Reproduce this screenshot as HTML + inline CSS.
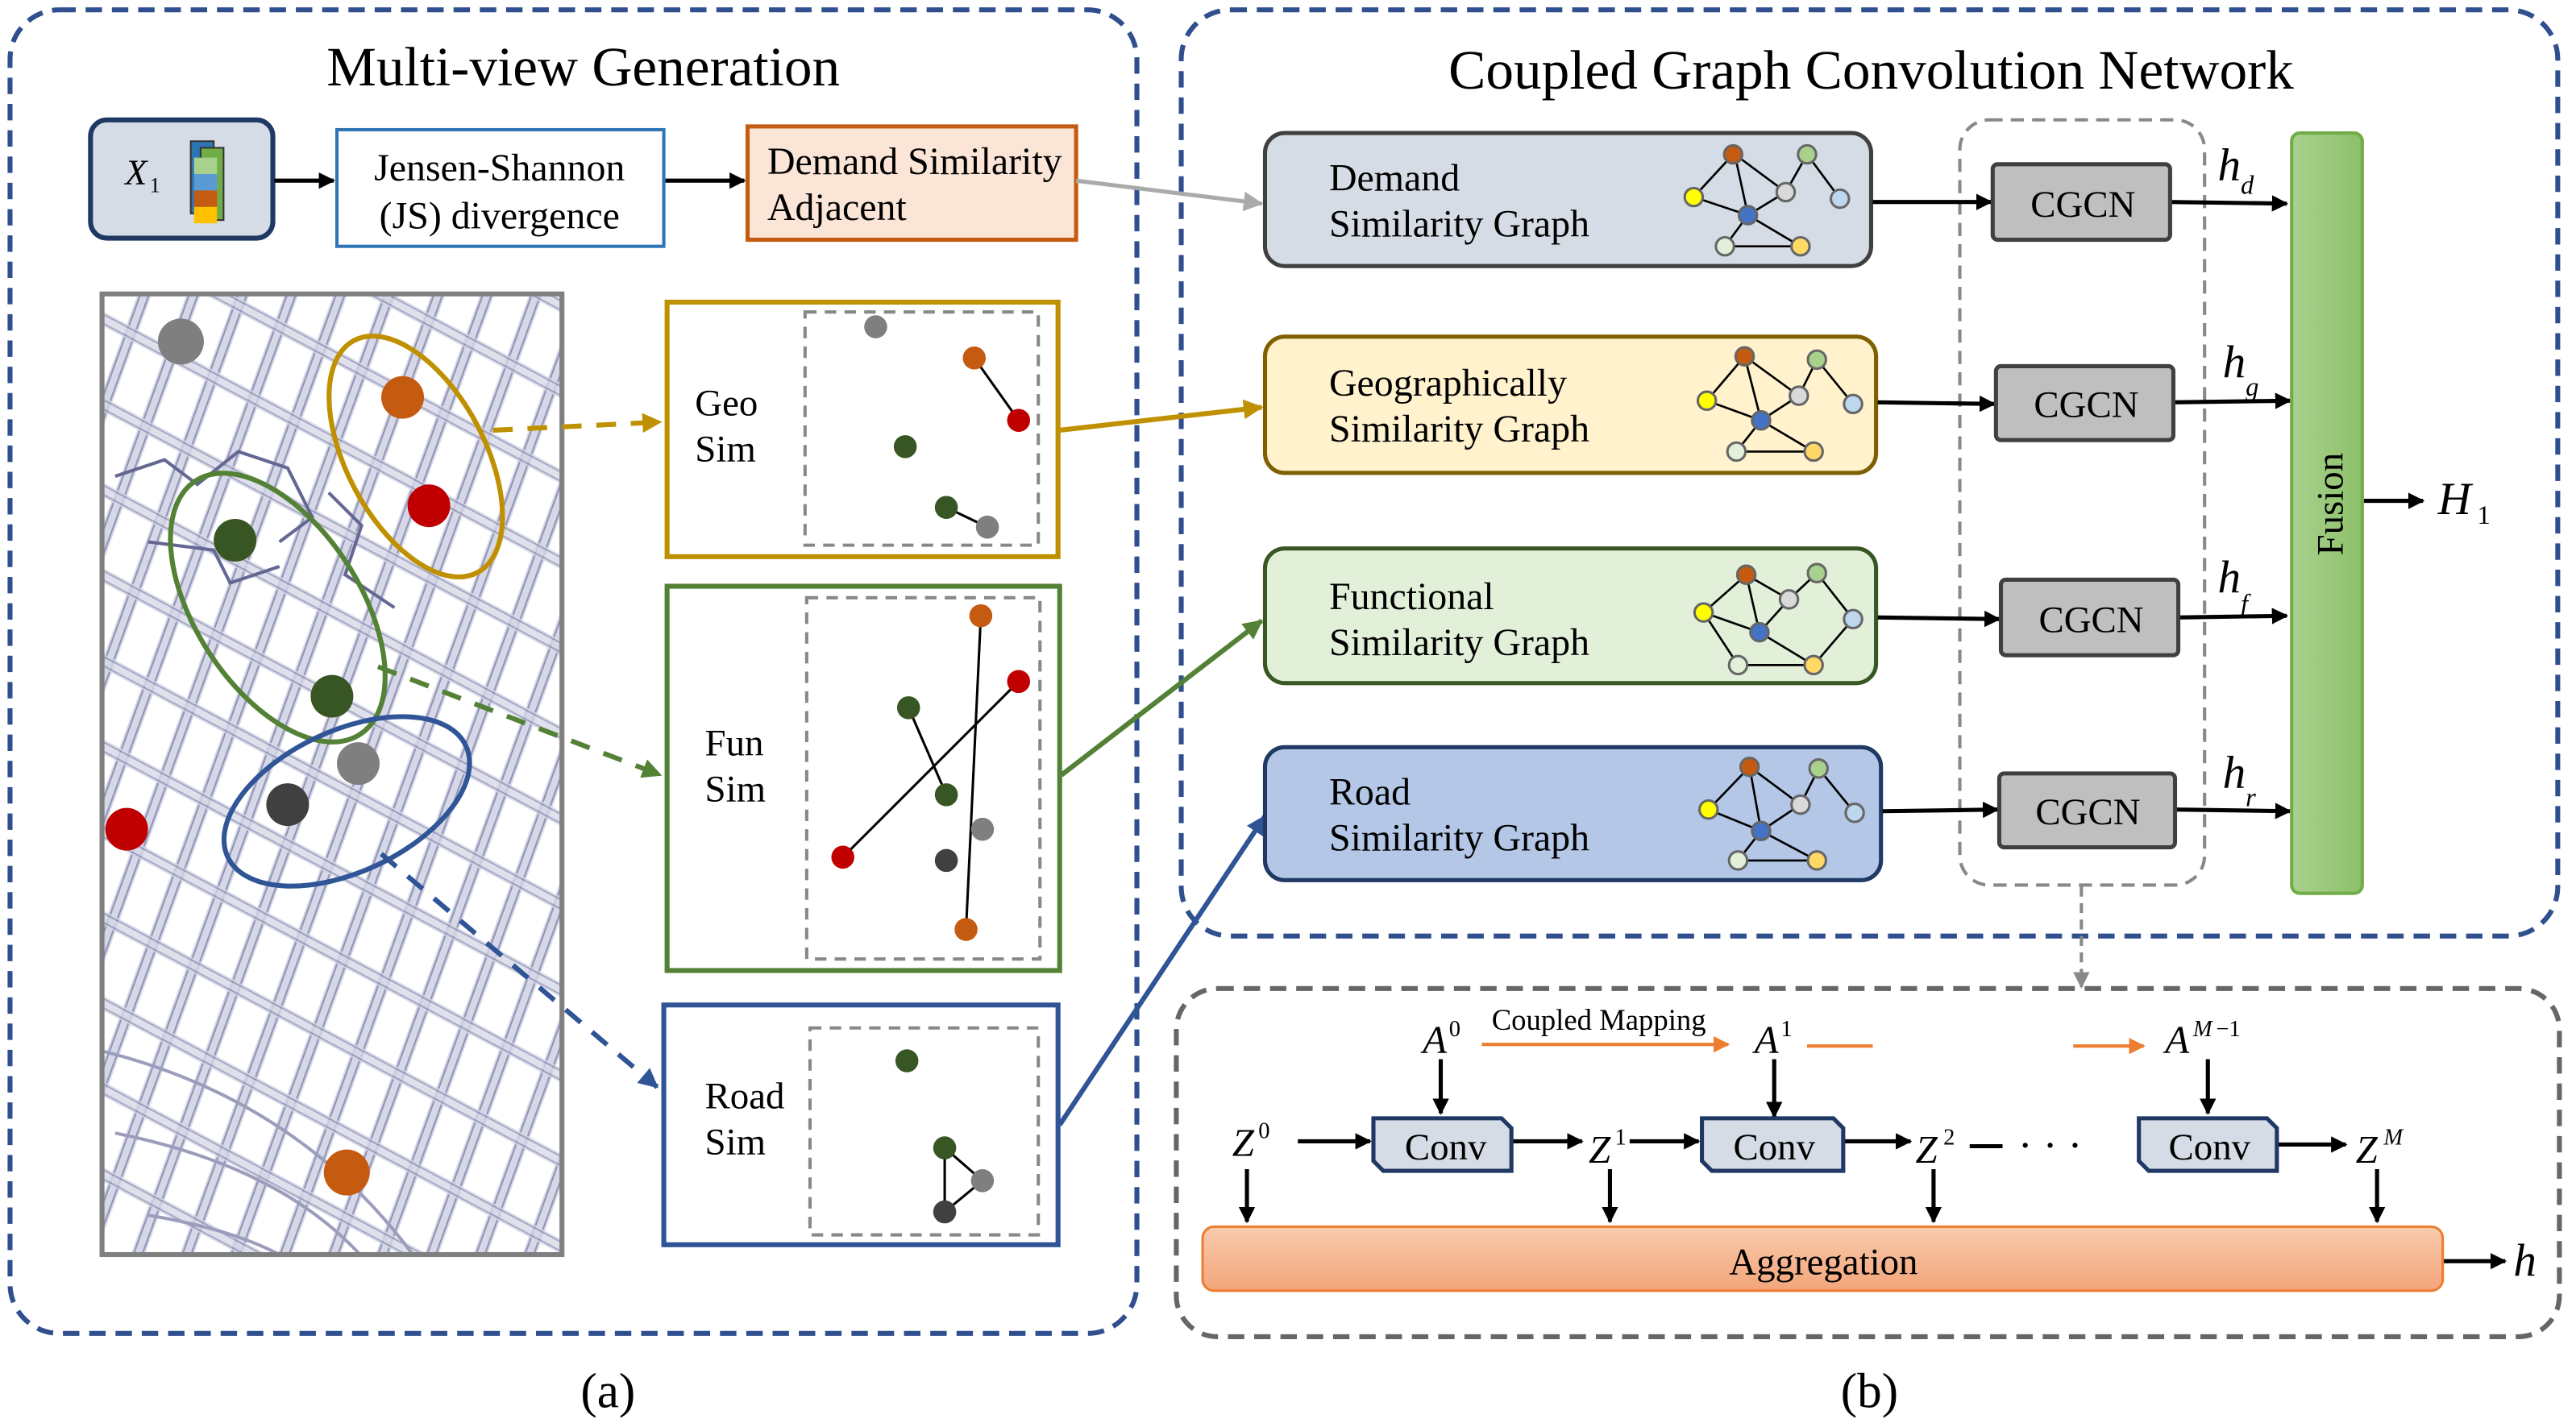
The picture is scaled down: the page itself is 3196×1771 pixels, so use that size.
<!DOCTYPE html>
<html><head><meta charset="utf-8"><style>html,body{margin:0;padding:0;background:#fff}svg{display:block}</style></head>
<body>
<svg width="3196" height="1771" viewBox="0 0 1568 869" xmlns="http://www.w3.org/2000/svg" font-family="'Liberation Serif', serif">
<defs>
<marker id="ak" markerWidth="10" markerHeight="10" refX="9" refY="5" orient="auto" markerUnits="userSpaceOnUse"><path d="M0,0 L10,5 L0,10 z" fill="#000"/></marker>
<marker id="ag" markerWidth="12" markerHeight="12" refX="11" refY="6" orient="auto" markerUnits="userSpaceOnUse"><path d="M0,0 L12,6 L0,12 z" fill="#aaa"/></marker>
<marker id="ay" markerWidth="12" markerHeight="12" refX="11" refY="6" orient="auto" markerUnits="userSpaceOnUse"><path d="M0,0 L12,6 L0,12 z" fill="#bf9000"/></marker>
<marker id="agr" markerWidth="12" markerHeight="12" refX="11" refY="6" orient="auto" markerUnits="userSpaceOnUse"><path d="M0,0 L12,6 L0,12 z" fill="#538135"/></marker>
<marker id="ab" markerWidth="12" markerHeight="12" refX="11" refY="6" orient="auto" markerUnits="userSpaceOnUse"><path d="M0,0 L12,6 L0,12 z" fill="#2f5597"/></marker>
<marker id="ao" markerWidth="10" markerHeight="10" refX="9" refY="5" orient="auto" markerUnits="userSpaceOnUse"><path d="M0,0 L10,5 L0,10 z" fill="#ed7d31"/></marker>
<marker id="agg" markerWidth="10" markerHeight="10" refX="9" refY="5" orient="auto" markerUnits="userSpaceOnUse"><path d="M0,0 L10,5 L0,10 z" fill="#888"/></marker>
<pattern id="p1" width="28" height="28" patternUnits="userSpaceOnUse" patternTransform="rotate(20)"><rect x="0" y="0" width="8" height="28" fill="#cfd2e4"/><rect x="1" y="0" width="1" height="28" fill="#7c7fa6"/><rect x="6" y="0" width="1" height="28" fill="#7c7fa6"/></pattern>
<pattern id="p2" width="46" height="46" patternUnits="userSpaceOnUse" patternTransform="rotate(28)"><rect x="0" y="0" width="46" height="8" fill="#cfd2e4"/><rect x="0" y="1" width="46" height="1" fill="#7c7fa6"/><rect x="0" y="6" width="46" height="1" fill="#7c7fa6"/></pattern>
<clipPath id="mc"><rect x="62" y="179" width="280" height="585"/></clipPath>
<linearGradient id="fg" x1="0" x2="1"><stop offset="0" stop-color="#a9d18e"/><stop offset="1" stop-color="#8cc06a"/></linearGradient>
<linearGradient id="ag2" x1="0" y1="0" x2="0" y2="1"><stop offset="0" stop-color="#f8cbad"/><stop offset="1" stop-color="#f4a57a"/></linearGradient>
</defs>

<rect x="6" y="6" width="686" height="806" rx="30" fill="none" stroke="#2f4f8f" stroke-width="3" stroke-dasharray="10,6"/>
<rect x="719" y="6" width="838" height="564" rx="30" fill="none" stroke="#2f4f8f" stroke-width="3" stroke-dasharray="10,6"/>
<rect x="716" y="602" width="842" height="212" rx="25" fill="none" stroke="#666" stroke-width="3" stroke-dasharray="10,6"/>
<rect x="1193" y="73" width="149" height="466" rx="18" fill="none" stroke="#888" stroke-width="2" stroke-dasharray="8,5"/>

<text x="355" y="52" font-size="34" text-anchor="middle">Multi-view Generation</text>
<text x="1139" y="54" font-size="34" text-anchor="middle">Coupled Graph Convolution Network</text>
<text x="370" y="857" font-size="30" text-anchor="middle">(a)</text>
<text x="1138" y="857" font-size="30" text-anchor="middle">(b)</text>

<rect x="55" y="73" width="111" height="72" rx="10" fill="#d6dce5" stroke="#1f3864" stroke-width="3"/>
<text x="76" y="112" font-size="22" font-style="italic">X</text><text x="91" y="117" font-size="13">1</text>
<rect x="116" y="86" width="14" height="44" fill="#2e75b6" stroke="#333" stroke-width="1"/>
<rect x="122" y="90" width="14" height="44" fill="#70ad47" stroke="#333" stroke-width="1"/>
<rect x="118" y="96" width="14" height="10" fill="#a9d18e"/><rect x="118" y="106" width="14" height="10" fill="#5b9bd5"/><rect x="118" y="116" width="14" height="10" fill="#c55a11"/><rect x="118" y="126" width="14" height="10" fill="#ffc000"/>
<line x1="167" y1="110" x2="203" y2="110" stroke="#000" stroke-width="2.5" marker-end="url(#ak)"/>
<rect x="205" y="79" width="199" height="71" fill="#fff" stroke="#2e75b6" stroke-width="2"/>
<text x="304" y="110" font-size="23.5" text-anchor="middle">Jensen-Shannon</text>
<text x="304" y="139" font-size="23.5" text-anchor="middle">(JS) divergence</text>
<line x1="405" y1="110" x2="453" y2="110" stroke="#000" stroke-width="2.5" marker-end="url(#ak)"/>
<rect x="455" y="77" width="200" height="69" fill="#fbe5d6" stroke="#c55a11" stroke-width="2.5"/>
<text x="467" y="106" font-size="23.5">Demand Similarity</text>
<text x="467" y="134" font-size="23.5">Adjacent</text>
<line x1="655" y1="110" x2="768" y2="124" stroke="#aaa" stroke-width="2.5" marker-end="url(#ag)"/>

<rect x="62" y="179" width="280" height="585" fill="#fff"/>
<g clip-path="url(#mc)" opacity="0.85">
<rect x="0" y="150" width="400" height="650" fill="url(#p1)"/>
<rect x="0" y="150" width="400" height="650" fill="url(#p2)" opacity="0.8"/>
<path d="M70,290 l30,-10 l20,15 l25,-20 l30,10 l15,30 l-20,15 M90,330 l40,5 l10,20 l30,-10 M200,300 l20,20 l-10,30 l30,20" stroke="#4a4d80" stroke-width="2" fill="none"/>
<path d="M70,690 q100,20 150,75 M90,740 q60,10 90,30 M62,640 q120,30 190,125" stroke="#8a8db0" stroke-width="2" fill="none"/>
</g>
<rect x="62" y="179" width="280" height="585" fill="none" stroke="#7f7f7f" stroke-width="3"/>
<circle cx="110" cy="208" r="14" fill="#7f7f7f"/>
<circle cx="245" cy="242" r="13" fill="#c55a11"/>
<circle cx="261" cy="308" r="13" fill="#c00000"/>
<circle cx="143" cy="329" r="13" fill="#375623"/>
<circle cx="202" cy="424" r="13" fill="#375623"/>
<circle cx="218" cy="465" r="13" fill="#7f7f7f"/>
<circle cx="175" cy="490" r="13" fill="#404040"/>
<circle cx="77" cy="505" r="13" fill="#c00000"/>
<circle cx="211" cy="714" r="14" fill="#c55a11"/>
<ellipse cx="253" cy="278" rx="42" ry="80" transform="rotate(-28 253 278)" fill="none" stroke="#bf9000" stroke-width="3"/>
<ellipse cx="169" cy="370" rx="50" ry="92" transform="rotate(-33 169 370)" fill="none" stroke="#538135" stroke-width="3"/>
<ellipse cx="211" cy="488" rx="80" ry="43" transform="rotate(-25 211 488)" fill="none" stroke="#2f5597" stroke-width="3"/>
<line x1="300" y1="262" x2="402" y2="257" stroke="#bf9000" stroke-width="3" stroke-dasharray="12,9" marker-end="url(#ay)"/>
<line x1="230" y1="406" x2="402" y2="472" stroke="#538135" stroke-width="3" stroke-dasharray="12,9" marker-end="url(#agr)"/>
<line x1="232" y1="520" x2="400" y2="662" stroke="#2f5597" stroke-width="3" stroke-dasharray="12,9" marker-end="url(#ab)"/>

<rect x="406" y="184" width="238" height="155" fill="#fff" stroke="#bf9000" stroke-width="3"/>
<rect x="490" y="190" width="142" height="142" fill="none" stroke="#888" stroke-width="2" stroke-dasharray="7,5"/>
<text x="423" y="253" font-size="23">Geo</text><text x="423" y="281" font-size="23">Sim</text>
<line x1="593" y1="218" x2="620" y2="256" stroke="#000" stroke-width="1.5"/>
<line x1="576" y1="309" x2="601" y2="321" stroke="#000" stroke-width="1.5"/>
<circle cx="533" cy="199" r="7" fill="#7f7f7f"/><circle cx="593" cy="218" r="7" fill="#c55a11"/><circle cx="620" cy="256" r="7" fill="#c00000"/><circle cx="551" cy="272" r="7" fill="#375623"/><circle cx="576" cy="309" r="7" fill="#375623"/><circle cx="601" cy="321" r="7" fill="#7f7f7f"/>
<line x1="645" y1="262" x2="768" y2="248" stroke="#bf9000" stroke-width="3" marker-end="url(#ay)"/>

<rect x="406" y="357" width="239" height="234" fill="#fff" stroke="#538135" stroke-width="3"/>
<rect x="491" y="364" width="142" height="220" fill="none" stroke="#888" stroke-width="2" stroke-dasharray="7,5"/>
<text x="429" y="460" font-size="23">Fun</text><text x="429" y="488" font-size="23">Sim</text>
<line x1="597" y1="375" x2="588" y2="566" stroke="#000" stroke-width="1.5"/>
<line x1="620" y1="415" x2="513" y2="522" stroke="#000" stroke-width="1.5"/>
<line x1="553" y1="431" x2="576" y2="484" stroke="#000" stroke-width="1.5"/>
<circle cx="597" cy="375" r="7" fill="#c55a11"/><circle cx="620" cy="415" r="7" fill="#c00000"/><circle cx="553" cy="431" r="7" fill="#375623"/><circle cx="576" cy="484" r="7" fill="#375623"/><circle cx="598" cy="505" r="7" fill="#7f7f7f"/><circle cx="576" cy="524" r="7" fill="#404040"/><circle cx="513" cy="522" r="7" fill="#c00000"/><circle cx="588" cy="566" r="7" fill="#c55a11"/>
<line x1="646" y1="472" x2="768" y2="378" stroke="#538135" stroke-width="3" marker-end="url(#agr)"/>

<rect x="404" y="612" width="240" height="146" fill="#fff" stroke="#2f5597" stroke-width="3"/>
<rect x="493" y="626" width="139" height="126" fill="none" stroke="#888" stroke-width="2" stroke-dasharray="7,5"/>
<text x="429" y="675" font-size="23">Road</text><text x="429" y="703" font-size="23">Sim</text>
<path d="M575,699 L598,719 L575,738 Z" fill="none" stroke="#000" stroke-width="1.5"/>
<circle cx="552" cy="646" r="7" fill="#375623"/><circle cx="575" cy="699" r="7" fill="#375623"/><circle cx="598" cy="719" r="7" fill="#7f7f7f"/><circle cx="575" cy="738" r="7" fill="#404040"/>
<line x1="645" y1="685" x2="770" y2="497" stroke="#2f5597" stroke-width="3" marker-end="url(#ab)"/>

<rect x="770" y="81" width="369" height="81" rx="12" fill="#d6dce5" stroke="#404040" stroke-width="2.5"/>
<text x="809" y="116" font-size="23.5">Demand</text><text x="809" y="144" font-size="23.5">Similarity Graph</text>
<rect x="770" y="205" width="372" height="83" rx="12" fill="#fff2cc" stroke="#7f6000" stroke-width="2.5"/>
<text x="809" y="241" font-size="23.5">Geographically</text><text x="809" y="269" font-size="23.5">Similarity Graph</text>
<rect x="770" y="334" width="372" height="82" rx="12" fill="#e2f0d9" stroke="#385723" stroke-width="2.5"/>
<text x="809" y="371" font-size="23.5">Functional</text><text x="809" y="399" font-size="23.5">Similarity Graph</text>
<rect x="770" y="455" width="375" height="81" rx="12" fill="#b4c7e7" stroke="#1f3864" stroke-width="2.5"/>
<text x="809" y="490" font-size="23.5">Road</text><text x="809" y="518" font-size="23.5">Similarity Graph</text>

<g stroke="#000" stroke-width="1.3" fill="none">
<path d="M1055,94 L1031,120 L1064,131 L1056,94 L1087,117 L1064,131 L1050,150 L1096,150 M1100,94 L1087,117 M1100,94 L1120,121 M1064,131 L1096,150"/>
<path d="M1062,217 L1039,244 L1072,256 L1062,217 L1095,241 L1072,256 L1057,275 L1104,275 M1106,219 L1095,241 M1106,219 L1128,246 M1072,256 L1104,275"/>
<path d="M1063,350 L1037,373 L1071,385 L1063,350 L1089,365 L1106,349 L1128,377 L1104,405 L1058,405 L1037,373 M1071,385 L1104,405 M1089,365 L1071,385"/>
<path d="M1065,467 L1040,493 L1072,506 L1065,467 L1096,490 L1072,506 L1058,524 L1106,524 M1107,468 L1096,490 M1107,468 L1129,495 M1072,506 L1106,524"/>
</g>
<g stroke="#666" stroke-width="1.5">
<circle cx="1055" cy="94" r="5.5" fill="#c55a11"/><circle cx="1100" cy="94" r="5.5" fill="#a9d18e"/><circle cx="1031" cy="120" r="5.5" fill="#ffff00"/><circle cx="1087" cy="117" r="5.5" fill="#d9d9d9"/><circle cx="1120" cy="121" r="5.5" fill="#bdd7ee"/><circle cx="1064" cy="131" r="5.5" fill="#4472c4"/><circle cx="1050" cy="150" r="5.5" fill="#e2f0d9"/><circle cx="1096" cy="150" r="5.5" fill="#ffd966"/>
<circle cx="1062" cy="217" r="5.5" fill="#c55a11"/><circle cx="1106" cy="219" r="5.5" fill="#a9d18e"/><circle cx="1039" cy="244" r="5.5" fill="#ffff00"/><circle cx="1095" cy="241" r="5.5" fill="#d9d9d9"/><circle cx="1128" cy="246" r="5.5" fill="#bdd7ee"/><circle cx="1072" cy="256" r="5.5" fill="#4472c4"/><circle cx="1057" cy="275" r="5.5" fill="#e2f0d9"/><circle cx="1104" cy="275" r="5.5" fill="#ffd966"/>
<circle cx="1063" cy="350" r="5.5" fill="#c55a11"/><circle cx="1106" cy="349" r="5.5" fill="#a9d18e"/><circle cx="1037" cy="373" r="5.5" fill="#ffff00"/><circle cx="1089" cy="365" r="5.5" fill="#d9d9d9"/><circle cx="1128" cy="377" r="5.5" fill="#bdd7ee"/><circle cx="1071" cy="385" r="5.5" fill="#4472c4"/><circle cx="1058" cy="405" r="5.5" fill="#e2f0d9"/><circle cx="1104" cy="405" r="5.5" fill="#ffd966"/>
<circle cx="1065" cy="467" r="5.5" fill="#c55a11"/><circle cx="1107" cy="468" r="5.5" fill="#a9d18e"/><circle cx="1040" cy="493" r="5.5" fill="#ffff00"/><circle cx="1096" cy="490" r="5.5" fill="#d9d9d9"/><circle cx="1129" cy="495" r="5.5" fill="#bdd7ee"/><circle cx="1072" cy="506" r="5.5" fill="#4472c4"/><circle cx="1058" cy="524" r="5.5" fill="#e2f0d9"/><circle cx="1106" cy="524" r="5.5" fill="#ffd966"/>
</g>

<g stroke="#000" stroke-width="2.5" marker-end="url(#ak)">
<line x1="1140" y1="123" x2="1212" y2="123"/>
<line x1="1143" y1="245" x2="1214" y2="246"/>
<line x1="1143" y1="376" x2="1217" y2="377"/>
<line x1="1146" y1="494" x2="1216" y2="493"/>
<line x1="1321" y1="123" x2="1392" y2="124"/>
<line x1="1323" y1="245" x2="1394" y2="244"/>
<line x1="1326" y1="376" x2="1392" y2="375"/>
<line x1="1324" y1="493" x2="1394" y2="494"/>
<line x1="1439" y1="305" x2="1475" y2="305"/>
<line x1="1487" y1="768" x2="1525" y2="768"/>
</g>
<g fill="#bfbfbf" stroke="#404040" stroke-width="2.5">
<rect x="1213" y="100" width="108" height="46" rx="3"/>
<rect x="1215" y="223" width="108" height="45" rx="3"/>
<rect x="1218" y="353" width="108" height="46" rx="3"/>
<rect x="1217" y="471" width="107" height="45" rx="3"/>
</g>
<g font-size="23" text-anchor="middle">
<text x="1268" y="132">CGCN</text><text x="1270" y="254">CGCN</text><text x="1273" y="385">CGCN</text><text x="1271" y="502">CGCN</text>
</g>
<g font-size="28" font-style="italic">
<text x="1350" y="110">h</text><text x="1364" y="118" font-size="16">d</text>
<text x="1353" y="230">h</text><text x="1367" y="241" font-size="16">g</text>
<text x="1350" y="361">h</text><text x="1364" y="373" font-size="16">f</text>
<text x="1353" y="480">h</text><text x="1367" y="491" font-size="16">r</text>
<text x="1484" y="313">H</text><text x="1508" y="319" font-size="16" font-style="normal">1</text>
<text x="1530" y="777">h</text>
</g>
<rect x="1395" y="81" width="43" height="463" rx="5" fill="url(#fg)" stroke="#70ad47" stroke-width="2"/>
<text x="1426" y="307" font-size="23" text-anchor="middle" transform="rotate(-90 1426 307)">Fusion</text>
<line x1="1267" y1="540" x2="1267" y2="601" stroke="#888" stroke-width="2" stroke-dasharray="6,4" marker-end="url(#agg)"/>

<g font-size="24" font-style="italic">
<text x="866" y="641">A</text><text x="882" y="631" font-size="14" font-style="normal">0</text>
<text x="1068" y="641">A</text><text x="1084" y="631" font-size="14" font-style="normal">1</text>
<text x="1318" y="641">A</text><text x="1335" y="631" font-size="14">M</text><text x="1349" y="631" font-size="14" font-style="normal">−1</text>
<text x="750" y="704">Z</text><text x="766" y="693" font-size="14" font-style="normal">0</text>
<text x="967" y="708">Z</text><text x="983" y="697" font-size="14" font-style="normal">1</text>
<text x="1166" y="708">Z</text><text x="1183" y="697" font-size="14" font-style="normal">2</text>
<text x="1434" y="708">Z</text><text x="1451" y="697" font-size="14">M</text>
</g>
<text x="908" y="627" font-size="18">Coupled Mapping</text>
<line x1="902" y1="636" x2="1052" y2="636" stroke="#ed7d31" stroke-width="2" marker-end="url(#ao)"/>
<line x1="1100" y1="637" x2="1140" y2="637" stroke="#ed7d31" stroke-width="2"/>
<line x1="1262" y1="637" x2="1305" y2="637" stroke="#ed7d31" stroke-width="2" marker-end="url(#ao)"/>
<g stroke="#000" stroke-width="2.5" marker-end="url(#ak)">
<line x1="877" y1="645" x2="877" y2="678"/>
<line x1="1080" y1="645" x2="1080" y2="680"/>
<line x1="1344" y1="645" x2="1344" y2="678"/>
<line x1="790" y1="695" x2="834" y2="695"/>
<line x1="921" y1="695" x2="963" y2="695"/>
<line x1="992" y1="695" x2="1034" y2="695"/>
<line x1="1123" y1="695" x2="1163" y2="695"/>
<line x1="1385" y1="697" x2="1428" y2="697"/>
<line x1="759" y1="712" x2="759" y2="744"/>
<line x1="980" y1="712" x2="980" y2="744"/>
<line x1="1177" y1="712" x2="1177" y2="744"/>
<line x1="1447" y1="712" x2="1447" y2="744"/>
</g>
<line x1="1199" y1="698" x2="1219" y2="698" stroke="#000" stroke-width="2.5"/>
<text x="1248" y="706" font-size="26" text-anchor="middle">· · ·</text>
<g fill="#d6dce5" stroke="#1f3864" stroke-width="2.5">
<path d="M836,681 L914,681 L920,687 L920,713 L842,713 L836,707 Z"/>
<path d="M1036,681 L1116,681 L1122,687 L1122,713 L1042,713 L1036,707 Z"/>
<path d="M1302,681 L1380,681 L1386,687 L1386,713 L1308,713 L1302,707 Z"/>
</g>
<g font-size="23" text-anchor="middle"><text x="880" y="706">Conv</text><text x="1080" y="706">Conv</text><text x="1345" y="706">Conv</text></g>
<rect x="732" y="747" width="755" height="39" rx="7" fill="url(#ag2)" stroke="#ed7d31" stroke-width="1.5"/>
<text x="1110" y="776" font-size="23" text-anchor="middle">Aggregation</text>
</svg>
</body></html>
